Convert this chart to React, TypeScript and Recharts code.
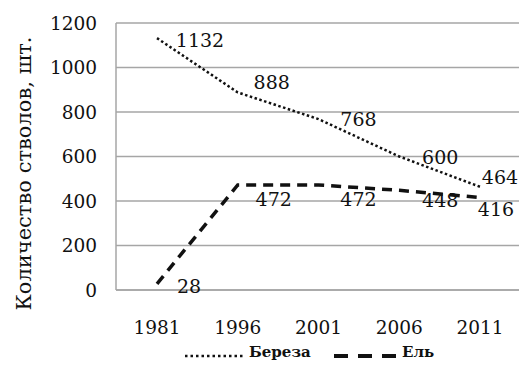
import React from 'react';
import { LineChart, Line, XAxis, YAxis, CartesianGrid, Legend, Label } from 'recharts';

// Число стволов по годам учёта
const years = ['1981', '1996', '2001', '2006', '2011'];
const bereza = [1132, 888, 768, 600, 464];
const el = [28, 472, 472, 448, 416];
const yTicks = [0, 200, 400, 600, 800, 1000, 1200];

// сдвиг подписей значений относительно точки (центр текста)
const berezaLabelShift = [[43, 2], [34, -10], [40, 0], [41, 0], [20, -10]];
const elLabelShift = [[32, 2], [36, 14], [40, 14], [41, 10], [16, 12]];

const data = years.map((year, i) => ({ year, bereza: bereza[i], el: el[i] }));

const FONT = '"DejaVu Serif", serif';
const GRID = '#a6a6a6';

const makeLabel = (shift: number[][]) => (props: any) => {
  const { x, y, value, index } = props;
  const [dx, dy] = shift[index] || [30, 0];
  return (
    <text
      x={x + dx}
      y={y + dy}
      textAnchor="middle"
      dominantBaseline="central"
      fontSize={19}
      style={{ fontFamily: FONT }}
      fill="#111"
    >
      {value}
    </text>
  );
};

const LegendContent = () => (
  <div style={{ position: 'relative', height: 30, fontFamily: FONT, fontSize: 15, fontWeight: 'bold', color: '#111' }}>
    <svg width={62} height={10} style={{ position: 'absolute', left: 184, top: 21 }}>
      <line x1={1} y1={5} x2={61} y2={5} stroke="#111" strokeWidth={2.5} strokeDasharray="2.5 3" />
    </svg>
    <span style={{ position: 'absolute', left: 249, top: 13 }}>Береза</span>
    <svg width={68} height={10} style={{ position: 'absolute', left: 334, top: 21 }}>
      <line x1={0} y1={5} x2={64} y2={5} stroke="#111" strokeWidth={4} strokeDasharray="14 10" />
    </svg>
    <span style={{ position: 'absolute', left: 402, top: 13 }}>Ель</span>
  </div>
);

const App = () => (
  <div
    style={{
      position: 'absolute',
      left: 0,
      top: 0,
      width: 519,
      height: 367,
      overflow: 'hidden',
      background: '#fff',
      fontFamily: FONT,
    }}
  >
    <LineChart
      width={521}
      height={367}
      data={data}
      margin={{ top: 23, right: 1, bottom: 7, left: 0 }}
      style={{ fontFamily: FONT }}
    >
      <CartesianGrid horizontal vertical={false} stroke={GRID} strokeWidth={1.5} />
      <XAxis
        dataKey="year"
        axisLine={{ stroke: GRID, strokeWidth: 1.5 }}
        tickLine={false}
        tick={{ fill: '#111', fontSize: 18.5, style: { fontFamily: FONT } }}
        tickMargin={25}
        height={40}
        interval={0}
        padding={{ left: 41, right: 40 }}
      />
      <YAxis
        domain={[0, 1200]}
        ticks={yTicks}
        interval={0}
        width={116}
        axisLine={{ stroke: GRID, strokeWidth: 1.5 }}
        tickLine={false}
        tickMargin={13}
        tick={{ fill: '#111', fontSize: 18.5, style: { fontFamily: FONT } }}
      >
        <Label
          content={({ viewBox }: any) => {
            const cx = viewBox.x + 24;
            const cy = viewBox.y + viewBox.height / 2 + 17;
            return (
              <text
                x={cx}
                y={cy}
                transform={`rotate(-90 ${cx} ${cy})`}
                textAnchor="middle"
                dominantBaseline="central"
                fontSize={21}
                style={{ fontFamily: FONT }}
                fill="#111"
              >
                Количество стволов, шт.
              </text>
            );
          }}
        />
      </YAxis>
      <Legend verticalAlign="bottom" height={30} content={<LegendContent />} wrapperStyle={{ left: 0, width: 519 }} />
      <Line
        dataKey="bereza"
        name="Береза"
        stroke="#111"
        strokeWidth={2.5}
        strokeDasharray="2.5 2.5"
        dot={false}
        activeDot={false}
        label={makeLabel(berezaLabelShift)}
        isAnimationActive={false}
      />
      <Line
        dataKey="el"
        name="Ель"
        stroke="#111"
        strokeWidth={3.5}
        strokeDasharray="10 7"
        dot={false}
        activeDot={false}
        label={makeLabel(elLabelShift)}
        isAnimationActive={false}
      />
    </LineChart>
  </div>
);

export default App;
